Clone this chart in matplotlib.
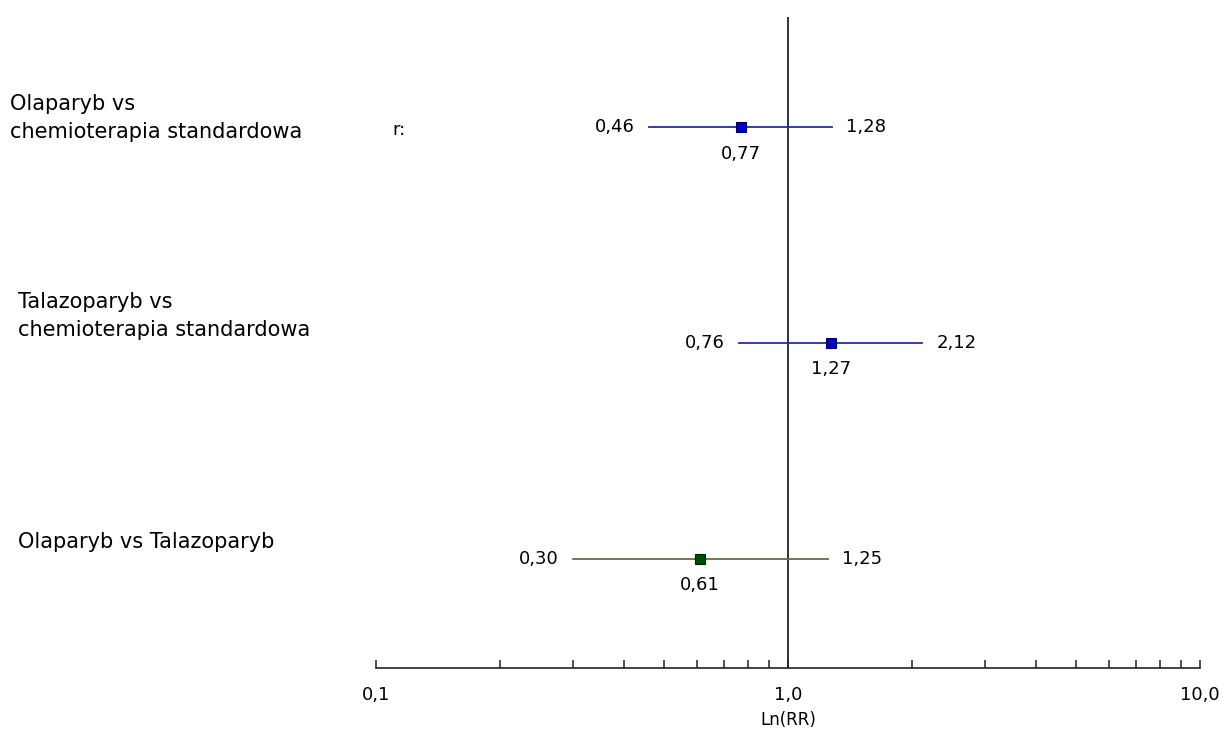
import matplotlib
matplotlib.use("Agg")
import matplotlib.pyplot as plt
from matplotlib.ticker import LogLocator, FixedLocator, NullFormatter

# data
labels = ["Olaparyb vs\nchemioterapia standardowa",
          "Talazoparyb vs\nchemioterapia standardowa",
          "Olaparyb vs Talazoparyb"]
rr = [0.77, 1.27, 0.61]
lower = [0.46, 0.76, 0.30]
upper = [1.28, 2.12, 1.25]
rows = [3, 2, 1]
line_colors = ["#1f2fa8", "#1f2fa8", "#6b6b45"]
marker_colors = ["#0000c8", "#0000c8", "#004d00"]
tick_vals = [0.1, 1.0, 10.0]
tick_text = ["0,1", "1,0", "10,0"]

W, H = 1224, 745
fig = plt.figure(figsize=(W / 100, H / 100), dpi=100)
ax = fig.add_axes([376 / W, 1 - 668 / H, (1200 - 376) / W, (668 - 17) / H])
ax.set_xscale("log")
ax.set_xlim(0.1, 10)
ax.set_ylim(0.495, 3.51)

fnt = "DejaVu Sans"
nsize = 13
for i in range(3):
    y = rows[i]
    ax.plot([lower[i], upper[i]], [y, y], color=line_colors[i], lw=1.3, zorder=2)
    ax.plot(rr[i], y, marker="s", ms=7.5, color=marker_colors[i],
            mec="#000060" if i < 2 else "#002000", mew=0.8, zorder=3)
    ax.annotate(f"{lower[i]:.2f}".replace(".", ","), (lower[i], y), xytext=(-10, 0),
                textcoords="offset points", ha="right", va="center", fontsize=nsize, family=fnt)
    ax.annotate(f"{upper[i]:.2f}".replace(".", ","), (upper[i], y), xytext=(10, 0),
                textcoords="offset points", ha="left", va="center", fontsize=nsize, family=fnt)
    ax.annotate(f"{rr[i]:.2f}".replace(".", ","), (rr[i], y), xytext=(0, -19),
                textcoords="offset points", ha="center", va="center", fontsize=nsize, family=fnt)

ax.axvline(1.0, color="#222222", lw=1.3, zorder=1)

for s in ["top", "right", "left"]:
    ax.spines[s].set_visible(False)
ax.spines["bottom"].set_linewidth(1.2)
ax.spines["bottom"].set_color("#222222")
ax.set_yticks([])

ax.xaxis.set_major_locator(FixedLocator(tick_vals))
ax.set_xticklabels(tick_text, fontsize=nsize, family=fnt)
ax.xaxis.set_minor_locator(LogLocator(base=10, subs=range(2, 10)))
ax.xaxis.set_minor_formatter(NullFormatter())
ax.tick_params(axis="x", which="both", direction="in", length=6, width=1.1,
               color="#222222", pad=13)
ax.set_xlabel("Ln(RR)", fontsize=12, family=fnt, labelpad=5)

# row labels on the left
fig.text(10 / W, 1 - 118 / H, labels[0], fontsize=15, family=fnt, va="center",
         ha="left", linespacing=1.5)
fig.text(18 / W, 1 - 316 / H, labels[1], fontsize=15, family=fnt, va="center",
         ha="left", linespacing=1.5)
fig.text(18 / W, 1 - 542 / H, labels[2], fontsize=15, family=fnt, va="center",
         ha="left")
fig.text(392 / W, 1 - 130 / H, "r:", fontsize=nsize, family=fnt, va="center", ha="left")

fig.savefig("out.png", dpi=100)
